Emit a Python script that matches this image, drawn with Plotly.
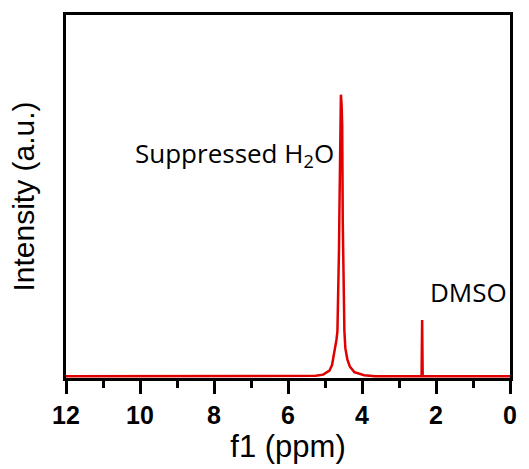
import plotly.graph_objects as go

# 1H NMR spectrum: chemical shift (ppm) and relative intensity
ppm = [12.0, 8.0, 5.55, 5.25, 5.05, 4.88, 4.81, 4.74, 4.69, 4.664, 4.637,
       4.622, 4.610, 4.590, 4.570, 4.550, 4.535, 4.520, 4.503, 4.476,
       4.450, 4.396, 4.330, 4.208, 3.94, 3.65, 2.39, 2.375, 2.36, 0.0]
intensity = [0.0, 0.0, 0.0, 0.002, 0.006, 0.02, 0.04, 0.09, 0.13, 0.16, 0.29,
             0.45, 0.59, 0.85, 1.0, 0.96, 0.89, 0.55, 0.29, 0.16,
             0.10, 0.06, 0.035, 0.015, 0.004, 0.0, 0.0, 0.20, 0.0, 0.0]

x_ticks = [12, 10, 8, 6, 4, 2, 0]
x_tick_labels = ["12", "10", "8", "6", "4", "2", "0"]

peak_labels = ["Suppressed H<sub>2</sub>O", "DMSO"]
peak_label_pos = [(7.44, 0.79), (1.13, 0.30)]

fig = go.Figure()
fig.add_trace(go.Scatter(
    x=ppm, y=intensity, mode="lines",
    line=dict(color="#e00000", width=2.5),
    showlegend=False,
))

for text, (px, py) in zip(peak_labels, peak_label_pos):
    fig.add_annotation(
        x=px, y=py, text=text, showarrow=False,
        font=dict(family="Open Sans", size=26, color="#000000"),
    )

fig.update_xaxes(
    range=[12, 0], tickvals=x_ticks, ticktext=x_tick_labels,
    ticks="outside", ticklen=13, tickwidth=3, tickcolor="#000000",
    minor=dict(dtick=1, tick0=0, ticks="outside", ticklen=7, tickwidth=3,
               tickcolor="#000000"),
    showline=True, linecolor="#000000", linewidth=3, mirror=True,
    showgrid=False, zeroline=False,
    tickfont=dict(family="Liberation Sans", size=25, color="#000000",
                  weight="bold"),
    title=dict(text="f1 (ppm)", font=dict(family="Liberation Sans", size=31,
               color="#000000"), standoff=4),
)
fig.update_yaxes(
    range=[-0.006, 1.283], showticklabels=False, ticks="",
    showline=True, linecolor="#000000", linewidth=3, mirror=True,
    showgrid=False, zeroline=False,
    title=dict(text="Intensity (a.u.)", font=dict(family="Liberation Sans",
               size=30, color="#000000"), standoff=20),
)

fig.update_layout(
    width=529, height=469,
    margin=dict(l=66, r=14, t=15, b=91),
    paper_bgcolor="white", plot_bgcolor="white",
)

fig.write_html("out.html")
